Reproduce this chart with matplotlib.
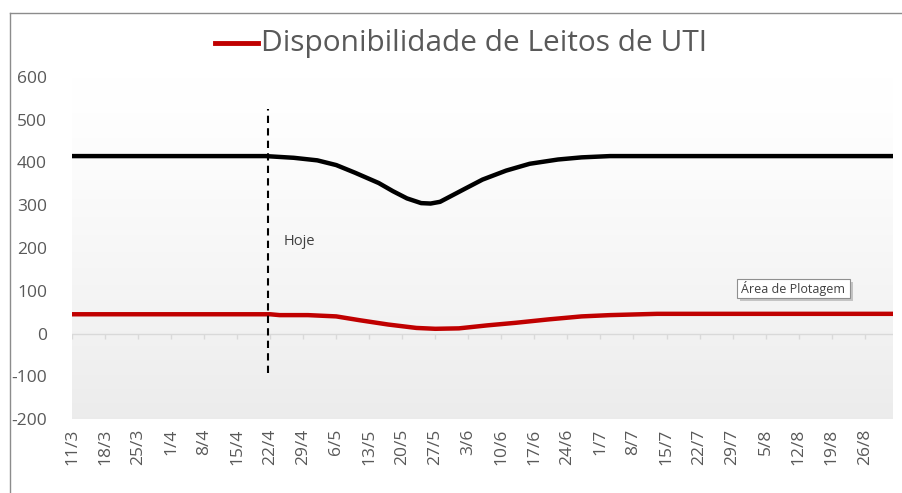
import numpy as np
import pandas as pd
import matplotlib
matplotlib.use("Agg")
import matplotlib.pyplot as plt
from matplotlib.lines import Line2D
from matplotlib.patches import Rectangle

plt.rcParams['font.family'] = ['Open Sans', 'DejaVu Sans']

# data (dd/mm, 2020)
black_dates = ["11/3", "21/4", "27/4", "2/5", "6/5", "10/5", "15/5", "18/5",
               "21/5", "24/5", "26/5", "28/5", "2/6", "6/6", "11/6", "16/6",
               "22/6", "27/6", "3/7", "1/9"]
black_vals = [415, 415, 411, 405, 394, 376, 352, 333, 316, 305, 304, 308,
              337, 360, 381, 397, 407, 412, 415, 415]

red_dates = ["11/3", "22/4", "24/4", "30/4", "6/5", "11/5", "17/5", "23/5",
             "27/5", "1/6", "7/6", "13/6", "20/6", "27/6", "3/7", "13/7", "1/9"]
red_vals = [45, 45, 43, 43, 40, 31, 21, 13, 11, 12, 19, 25, 33, 40, 43, 46, 46]

tick_labels = ["11/3", "18/3", "25/3", "1/4", "8/4", "15/4", "22/4", "29/4",
               "6/5", "13/5", "20/5", "27/5", "3/6", "10/6", "17/6", "24/6",
               "1/7", "8/7", "15/7", "22/7", "29/7", "5/8", "12/8", "19/8", "26/8"]
y_ticks = [-200, -100, 0, 100, 200, 300, 400, 500, 600]
hoje = "21/4"

W, H = 902, 493


def to_dates(lst):
    return pd.to_datetime([s + "/2020" for s in lst], format="%d/%m/%Y")


fig = plt.figure(figsize=(W / 100, H / 100), dpi=100)
ax = fig.add_axes([72 / W, 1 - 419 / H, (893 - 72) / W, (419 - 77) / H])

bd = to_dates(black_dates)
rd = to_dates(red_dates)
td = to_dates(tick_labels)

# gradient plot area
grad = np.linspace(0, 1, 256) ** 1.3
img = np.ones((256, 1, 3)) * (1 - 0.075 * grad)[:, None, None]
ax.imshow(img, extent=[0, 1, 0, 1], transform=ax.transAxes, aspect='auto',
          zorder=0, interpolation='bilinear', origin='upper')

ax.axhline(0, color='#d9d9d9', lw=1, zorder=1)
ax.vlines(td, -12, 0, color='#d9d9d9', lw=1, zorder=1)

ax.plot(bd, black_vals, color='black', lw=3.2, solid_capstyle='round',
        solid_joinstyle='round', zorder=3)
ax.plot(rd, red_vals, color='#c00000', lw=3.2, solid_capstyle='butt',
        solid_joinstyle='round', zorder=3)

hd = to_dates([hoje])[0] + pd.Timedelta(hours=12)
ax.plot([hd, hd], [-92, 525], color='black', lw=1.5, ls=(0, (3.5, 2.5)), zorder=4)
ax.text(hd + pd.Timedelta(days=3.3), 215, "Hoje", fontsize=10.5, color='#404040',
        va='center', ha='left')

ax.set_xlim(bd[0], bd[-1])
ax.set_ylim(-200, 600)
ax.set_yticks(y_ticks)
ax.set_yticklabels([str(v) for v in y_ticks])
ax.set_xticks(td)
ax.set_xticklabels(tick_labels, rotation=90)
ax.tick_params(axis='both', length=0, colors='#595959', labelsize=12.5)
ax.tick_params(axis='y', pad=18)
ax.tick_params(axis='x', pad=7)
for s in ax.spines.values():
    s.set_visible(False)

# title with legend key
fig.add_artist(Line2D([215 / W, 258 / W], [1 - 43 / H, 1 - 43 / H],
                      color='#c00000', lw=3.5))
fig.text(261 / W, 1 - 43 / H, "Disponibilidade de Leitos de UTI", fontsize=21.5,
         color='#595959', va='center', ha='left')

# frame lines of the chart object
fig.add_artist(Line2D([10 / W, 1], [1 - 13 / H, 1 - 13 / H], color='#8c8c8c', lw=1))
fig.add_artist(Line2D([10 / W, 10 / W], [0, 1 - 13 / H], color='#8c8c8c', lw=1))

# excel tooltip with a soft shadow
fig.add_artist(Rectangle((740 / W, 1 - 301 / H), 113 / W, 19 / H,
                         transform=fig.transFigure, fc='#c4c4c4', ec='none', zorder=5))
fig.add_artist(Rectangle((737 / W, 1 - 298 / H), 113 / W, 19 / H,
                         transform=fig.transFigure, fc='white', ec='#8f8f8f',
                         lw=0.8, zorder=6))
fig.text(741 / W, 1 - 288.5 / H, "Área de Plotagem", fontsize=9, color='#404040',
         va='center', ha='left', zorder=7)

fig.savefig("out.png", dpi=100)
